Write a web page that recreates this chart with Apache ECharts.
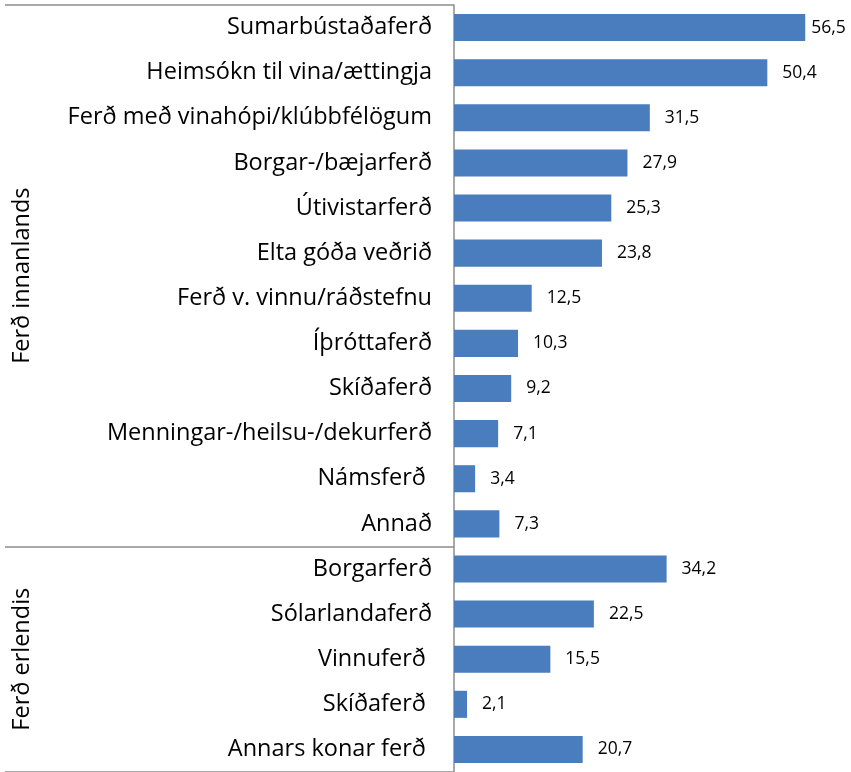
<!DOCTYPE html>
<html>
<head>
<meta charset="utf-8">
<script src="https://cdn.jsdelivr.net/npm/echarts@6/dist/echarts.min.js"></script>
<style>
  html, body { margin: 0; padding: 0; background: #fff; }
  #chart { width: 851px; height: 772px; }
</style>
</head>
<body>
<div id="chart"></div>
<script>
// Trip types (trailing spaces kept as in the source labels)
const categories = [
  'Sumarbústaðaferð',
  'Heimsókn til vina/ættingja',
  'Ferð með vinahópi/klúbbfélögum',
  'Borgar-/bæjarferð',
  'Útivistarferð',
  'Elta góða veðrið',
  'Ferð v. vinnu/ráðstefnu',
  'Íþróttaferð',
  'Skíðaferð',
  'Menningar-/heilsu-/dekurferð',
  'Námsferð ',
  'Annað',
  'Borgarferð',
  'Sólarlandaferð',
  'Vinnuferð ',
  'Skíðaferð ',
  'Annars konar ferð '
];
const values = [56.5, 50.4, 31.5, 27.9, 25.3, 23.8, 12.5, 10.3, 9.2, 7.1, 3.4, 7.3,
                34.2, 22.5, 15.5, 2.1, 20.7];
const groupNames = ['Ferð innanlands', 'Ferð erlendis'];
const groupSizes = [12, 5];

const FONT = '"Open Sans", "Noto Sans", sans-serif';
const BAR = '#4A7DBE';

// Category indices where a group starts; a boundary tick is drawn there
const groupStarts = [];
groupSizes.reduce((acc, n) => { groupStarts.push(acc); return acc + n; }, 0);

const chart = echarts.init(document.getElementById('chart'));
chart.setOption({
  animation: false,
  backgroundColor: '#fff',
  grid: { left: 454, right: 24, top: 5, bottom: 0, containLabel: false },
  xAxis: {
    type: 'value', min: 0, max: 60,
    show: false
  },
  yAxis: {
    type: 'category',
    data: categories,
    inverse: true,
    axisLine: { show: true, lineStyle: { color: '#8c8c8c', width: 1.5 } },
    axisTick: {
      show: true,
      length: 449,
      interval: (i) => groupStarts.indexOf(i) >= 0,
      lineStyle: { color: '#8c8c8c', width: 1.5 }
    },
    axisLabel: {
      margin: 22,
      color: '#000',
      fontFamily: FONT,
      fontSize: 23.5
    },
    splitLine: { show: false }
  },
  series: [{
    type: 'bar',
    data: values.map((v, i) => i === 0
      ? { value: v, label: { distance: 6 } }
      : v),
    barCategoryGap: '40%',
    itemStyle: { color: BAR },
    label: {
      show: true,
      position: 'right',
      distance: 15,
      color: '#000',
      fontFamily: FONT,
      fontSize: 17.5,
      formatter: (p) => p.value.toFixed(1).replace('.', ',')
    }
  }]
});

// Rotated group titles centred on each group's band span
function drawGroupTitles() {
  const c0 = chart.convertToPixel({ yAxisIndex: 0 }, 0);
  const c1 = chart.convertToPixel({ yAxisIndex: 0 }, 1);
  const band = c1 - c0;
  const elements = groupNames.map((name, g) => {
    const first = groupStarts[g];
    const last = first + groupSizes[g] - 1;
    const top = chart.convertToPixel({ yAxisIndex: 0 }, first) - band / 2;
    const bottom = chart.convertToPixel({ yAxisIndex: 0 }, last) + band / 2;
    return {
      type: 'text',
      x: 22,
      y: (top + bottom) / 2,
      rotation: Math.PI / 2,
      style: {
        text: name,
        fill: '#000',
        font: '23.5px ' + FONT,
        textAlign: 'center',
        textVerticalAlign: 'middle'
      }
    };
  });
  chart.setOption({ graphic: elements });
}
drawGroupTitles();
</script>
</body>
</html>
